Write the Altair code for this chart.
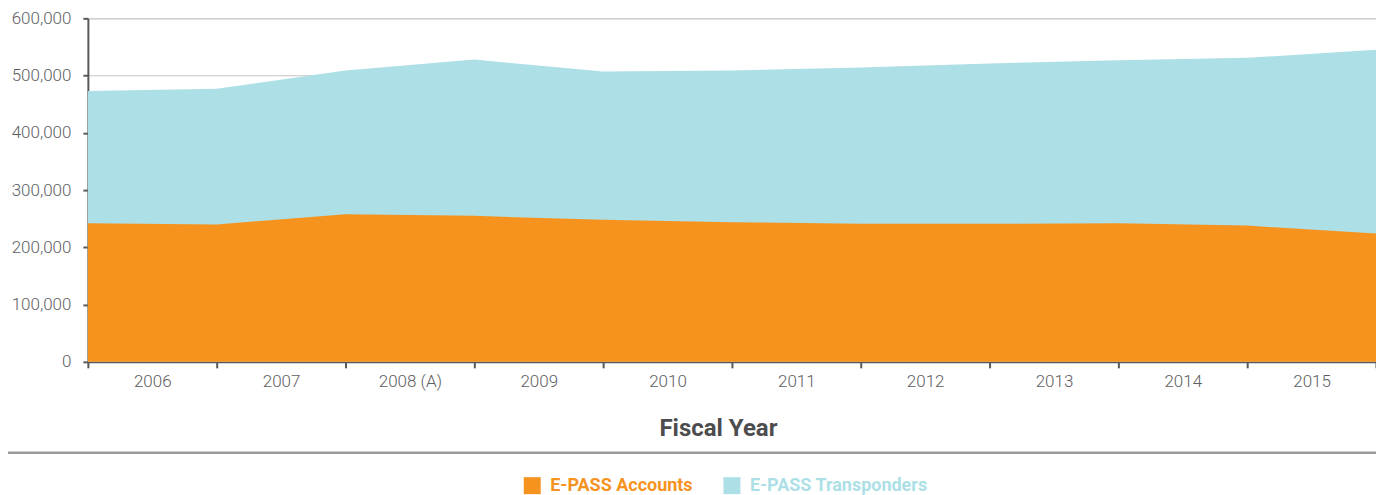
import altair as alt
import pandas as pd

# Fiscal year categories (labels sit between tick marks)
years = ["2006", "2007", "2008 (A)", "2009", "2010", "2011", "2012", "2013", "2014", "2015"]
# Boundary positions of the data points (at the tick marks)
positions = [0, 1, 2, 3, 4, 5, 6, 7, 8, 9, 10]
# Series values
accounts = [242000, 240000, 258000, 255000, 248000, 244000, 241000, 241000, 242000, 238000, 224000]
transponders = [473000, 477000, 509000, 528000, 507000, 509000, 514000, 521000, 527000, 531000, 545000]

series_names = ["E-PASS Accounts", "E-PASS Transponders"]
orange = "#f6931f"
blue = "#addfe7"

df_acc = pd.DataFrame({"pos": positions, "value": accounts, "series": series_names[0]})
df_tr = pd.DataFrame({"pos": positions, "value": transponders, "series": series_names[1]})

W, H = 1290, 344
TOP = 10
FONT = "Roboto"
label_js = "[" + ",".join("'" + y + "'" for y in years) + "]"

x_enc = alt.X(
    "pos:Q",
    scale=alt.Scale(domain=[0, 10], nice=False, zero=False),
    axis=alt.Axis(
        values=positions,
        labelExpr=f"datum.value < {len(years)} ? {label_js}[datum.value] : ''",
        labelOffset=W / 20,
        labelFlush=False,
        labelFont=FONT, labelFontSize=17, labelColor="#5d5e61", labelFontWeight=300,
        labelPadding=6,
        tickSize=6, tickWidth=2, tickColor="#58595b",
        domainColor="#58595b", domainWidth=2,
        grid=False,
        title="Fiscal Year",
        titleFont=FONT, titleFontSize=24, titleFontWeight="bold", titleColor="#4d4d4f",
        titleX=631, titleY=74, titleAlign="center", titleBaseline="alphabetic",
    ),
)

y_enc_axis = alt.Axis(
    values=[0, 100000, 200000, 300000, 400000, 500000, 600000],
    format=",d",
    labelFont=FONT, labelFontSize=17, labelColor="#5d5e61", labelFontWeight=300,
    labelPadding=12,
    tickSize=5, tickWidth=2, tickColor="#58595b",
    domainColor="#58595b", domainWidth=2,
    grid=True, gridColor="#c4c4c4", gridWidth=1,
    title=None,
)
y_scale = alt.Scale(domain=[0, 600000], nice=False)


def make_legend(x, color):
    return alt.Legend(
        orient="none", legendX=x, legendY=477 - 8 - TOP, title=None, padding=0,
        symbolType="square", symbolSize=289, symbolStrokeWidth=0,
        labelFont=FONT, labelFontSize=18, labelFontWeight="bold", labelOffset=9,
        labelLimit=400, labelColor=color,
    )


area_tr = alt.Chart(df_tr).mark_area(interpolate="linear").encode(
    x=x_enc,
    y=alt.Y("value:Q", scale=y_scale, axis=y_enc_axis, stack=None),
    color=alt.Color(
        "series:N",
        scale=alt.Scale(domain=[series_names[1]], range=[blue]),
        legend=make_legend(636, blue),
    ),
)

area_acc = alt.Chart(df_acc).mark_area(interpolate="linear").encode(
    x=alt.X("pos:Q"),
    y=alt.Y("value:Q", stack=None),
    color=alt.Color(
        "series:N",
        scale=alt.Scale(domain=[series_names[0]], range=[orange]),
        legend=make_legend(436, orange),
    ),
)

separator = alt.Chart(pd.DataFrame({"k": [0]})).mark_rule(
    color="#9c9c9c", strokeWidth=2.5
).encode(x=alt.value(-88), x2=alt.value(1296), y=alt.value(453 - 8 - TOP))

chart = (
    alt.layer(area_tr, area_acc, separator)
    .resolve_scale(color="independent")
    .properties(
        width=W, height=H,
        autosize=alt.AutoSizeParams(type="none"),
        padding={"left": 80, "top": TOP, "right": 0, "bottom": 495 - 8 - TOP - H},
    )
    .configure_view(stroke=None)
    .configure(background="white")
)

chart.save("out.html", embed_options={"renderer": "svg", "actions": False})
